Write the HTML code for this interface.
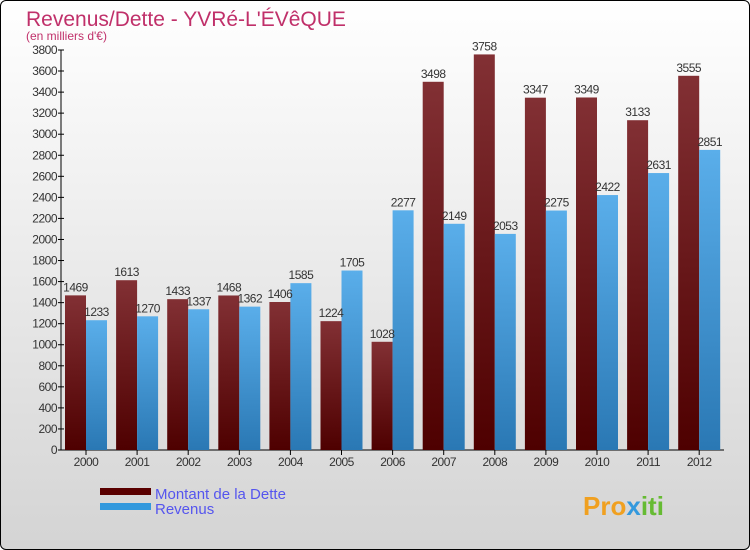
<!DOCTYPE html>
<html><head><meta charset="utf-8"><style>
body{margin:0;width:750px;height:550px;overflow:hidden;font-family:"Liberation Sans",sans-serif}
#wrap{position:absolute;left:0;top:0;width:748px;height:548px;border:1px solid #000;border-radius:6px;background:linear-gradient(#ffffff,#d4d4d4);overflow:hidden}
</style></head><body>
<div id="wrap">
<svg id="chart" width="750" height="550" style="position:absolute;left:-1px;top:-1px">
<defs>
<linearGradient id="gd" x1="0" y1="0" x2="0" y2="1"><stop offset="0" stop-color="#823034"/><stop offset="1" stop-color="#4e0000"/></linearGradient>
<linearGradient id="gr" x1="0" y1="0" x2="0" y2="1"><stop offset="0" stop-color="#5aaeea"/><stop offset="1" stop-color="#2a78b4"/></linearGradient>
</defs>
<text x="26" y="26" font-size="21" fill="#c0306a">Revenus/Dette - YVRé-L'ÉVêQUE</text>
<text x="26" y="40" font-size="12" fill="#c0306a">(en milliers d'€)</text>
<g id="plot"></g>
<rect x="100" y="488" width="51" height="7" fill="#5a0000"/>
<rect x="100" y="503" width="51" height="7" fill="#3399dd"/>
<text x="155" y="499" font-size="15" fill="#5555ee">Montant de la Dette</text>
<text x="155" y="514" font-size="15" fill="#5555ee">Revenus</text>
<text x="583" y="515" font-size="26" font-weight="bold" fill="#f0a020">Pro<tspan fill="#3399dd">x</tspan><tspan fill="#66bb33">iti</tspan></text>
</svg>
</div>
<script>
const years=["2000","2001","2002","2003","2004","2005","2006","2007","2008","2009","2010","2011","2012"];
const dette=[1469,1613,1433,1468,1406,1224,1028,3498,3758,3347,3349,3133,3555];
const revenus=[1233,1270,1337,1362,1585,1705,2277,2149,2053,2275,2422,2631,2851];
const yTicks=[0,200,400,600,800,1000,1200,1400,1600,1800,2000,2200,2400,2600,2800,3000,3200,3400,3600,3800];
const NS="http://www.w3.org/2000/svg";
const g=document.getElementById('plot');
const y0=450,yMax=3800,hPx=400,x0=65,step=51.1,bw=21;
const y=v=>y0-v/yMax*hPx;
function el(t,a){const e=document.createElementNS(NS,t);for(const k in a)e.setAttribute(k,a[k]);g.appendChild(e);return e;}
let ax=el('line',{x1:61,y1:50,x2:61,y2:450,stroke:'#000'});


let bx=el('line',{x1:61,y1:450,x2:724,y2:450,stroke:'#000'});


yTicks.forEach(t=>{
 const l=el('line',{x1:58,x2:64,y1:y(t),y2:y(t),stroke:'#000'});
 
 
 const tx=el('text',{x:57,y:y(t)+4,'font-size':12,'text-anchor':'end',fill:'#333','letter-spacing':'-0.5'});
 tx.textContent=t;
 
 
});
years.forEach((yr,i)=>{
 const x=x0+i*step;
 const t=el('line',{x1:x+bw,x2:x+bw,y1:450,y2:455,stroke:'#000'});
 
 
 const lb=el('text',{x:x+bw,y:466,'font-size':12,'text-anchor':'middle',fill:'#333','letter-spacing':'-0.5'});
 lb.textContent=yr;
 
 
 const d=el('rect',{x:x,y:y(dette[i]),width:bw,height:y0-y(dette[i]),fill:'url(#gd)'});
 
 
 const r=el('rect',{x:x+bw,y:y(revenus[i]),width:bw,height:y0-y(revenus[i]),fill:'url(#gr)'});
 
 
 const dl=el('text',{x:x+bw/2,y:y(dette[i])-4,'font-size':12,'text-anchor':'middle',fill:'#333','letter-spacing':'-0.5'});
 dl.textContent=dette[i];
 
 
 const rl=el('text',{x:x+bw*1.5,y:y(revenus[i])-4,'font-size':12,'text-anchor':'middle',fill:'#333','letter-spacing':'-0.5'});
 rl.textContent=revenus[i];
 
 
});
</script>
</body></html>
